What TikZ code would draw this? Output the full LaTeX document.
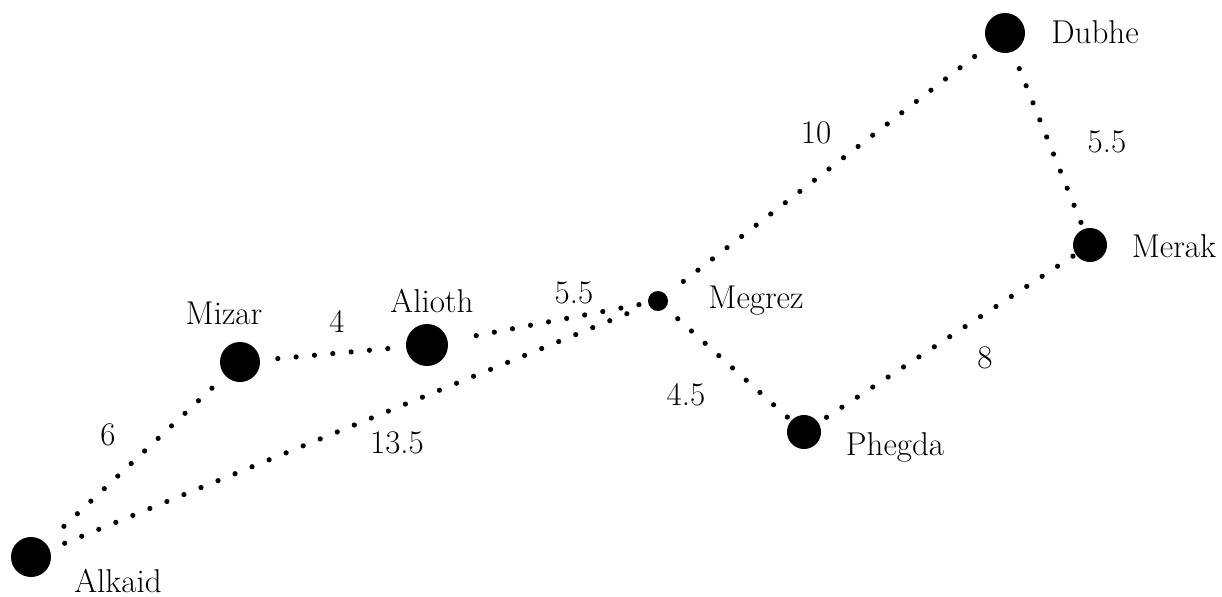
\documentclass[tikz,border=0pt]{standalone}
\begin{document}
\begin{tikzpicture}[x=0.5pt,y=-0.5pt,
  star/.style={circle,fill=black,inner sep=0pt,minimum size=#1*1pt},
  lbl/.style={anchor=base,inner sep=0pt,font=\fontsize{16.5}{20}\selectfont},
  dotline/.style={line width=2.6pt,line cap=round,dash pattern=on 0pt off 9.2pt}]
\useasboundingbox (0,0) rectangle (1222,596);
% stars
\node[star=20] (dubhe) at (1005,33) {};
\node[star=17] (merak) at (1090,245) {};
\node[star=10] (megrez) at (658,301) {};
\node[star=17] (phegda) at (804,432) {};
\node[star=21] (alioth) at (427,345) {};
\node[star=20] (mizar) at (240,362) {};
\node[star=20] (alkaid) at (31,557) {};
% names
\node[lbl] (ldubhe) at (1095,43) {Dubhe};
\node[lbl] (lmerak) at (1174,257) {Merak};
\node[lbl] (lmegrez) at (756,308) {Megrez};
\node[lbl] (lphegda) at (895,455) {Phegda};
\node[lbl] (lalioth) at (432,312) {Alioth};
\node[lbl] (lmizar) at (224,324) {Mizar};
\node[lbl] (lalkaid) at (118,592) {Alkaid};
% connectors
\draw[dotline,shorten <=9pt,shorten >=1pt] (dubhe) -- (merak);
\draw[dotline,shorten <=9pt,shorten >=4.5pt] (dubhe) -- (megrez);
\draw[dotline,shorten <=1.5pt,shorten >=1.5pt] (merak) -- (phegda);
\draw[dotline,shorten <=2.5pt,shorten >=4.5pt] (phegda) -- (megrez);
\draw[dotline,shorten <=4.5pt,shorten >=8pt] (megrez) -- (alioth);
\draw[dotline,shorten <=9pt,shorten >=8.5pt] (alioth) -- (mizar);
\draw[dotline,shorten <=9pt,shorten >=7.5pt] (mizar) -- (alkaid);
\draw[dotline,shorten <=8pt,shorten >=4.5pt] (alkaid) -- (megrez);
% distances
\node[lbl] (d1) at (816,143) {10};
\node[lbl] (d2) at (1107,152) {5.5};
\node[lbl] (d3) at (985,368) {8};
\node[lbl] (d4) at (686,405) {4.5};
\node[lbl] (d5) at (574,303) {5.5};
\node[lbl] (d6) at (337,332) {4};
\node[lbl] (d7) at (108,445) {6};
\node[lbl] (d8) at (397,453) {13.5};
\end{tikzpicture}
\end{document}
